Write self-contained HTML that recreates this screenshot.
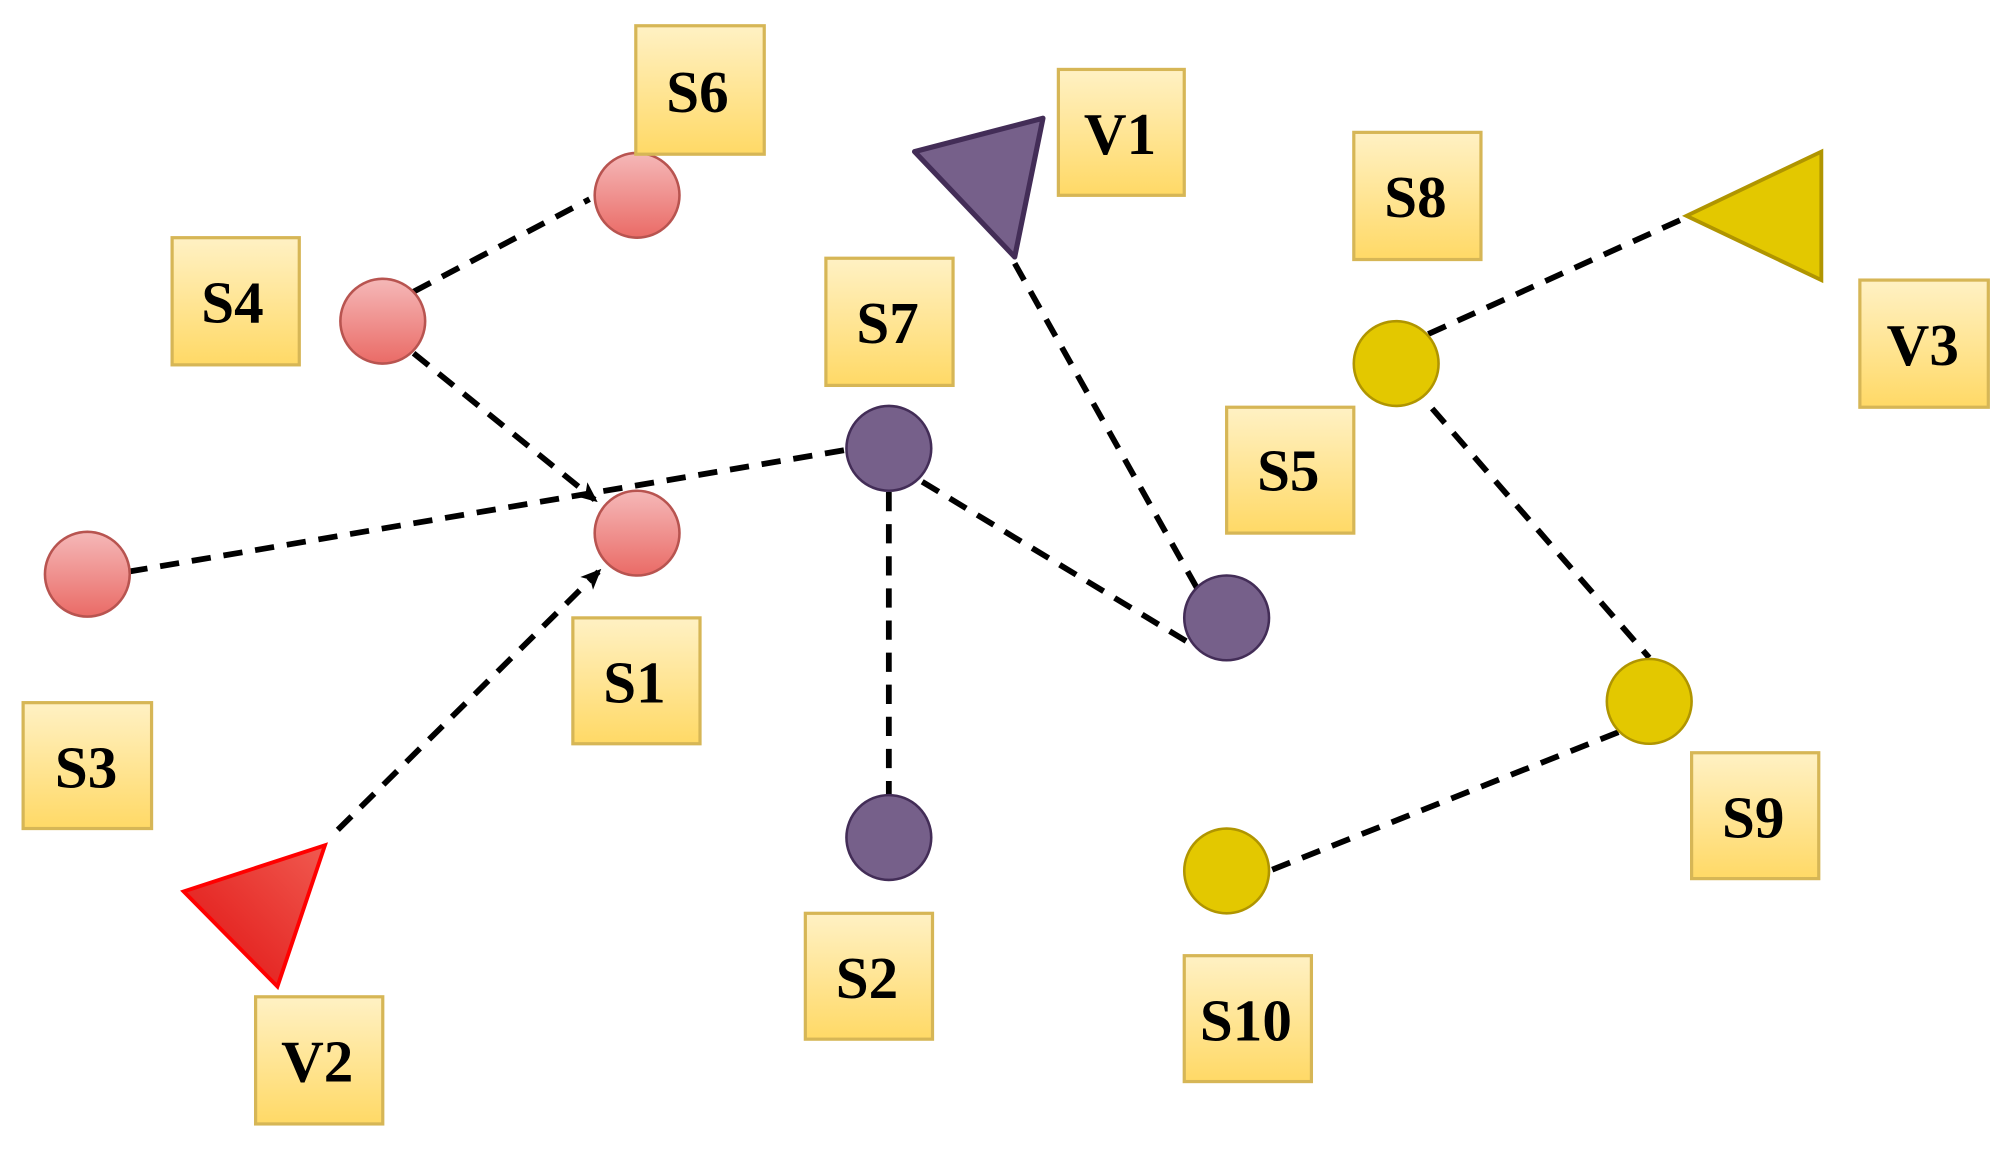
<!DOCTYPE html>
<html><head><meta charset="utf-8"><style>
html,body{margin:0;padding:0;background:#fff;}
svg{display:block;}
text{font-family:"Liberation Serif",serif;font-weight:bold;font-size:46px;fill:#000;}
</style></head><body>
<svg width="2014" height="1151" viewBox="0 0 1568 896" xmlns="http://www.w3.org/2000/svg">
<defs>
<linearGradient id="yb" x1="0" y1="0" x2="0" y2="1"><stop offset="0" stop-color="#fff1c4"/><stop offset="1" stop-color="#ffd966"/></linearGradient>
<linearGradient id="pk" x1="0" y1="0" x2="0" y2="1"><stop offset="0" stop-color="#f5b8b8"/><stop offset="1" stop-color="#ea6b66"/></linearGradient>
<linearGradient id="rd" x1="0" y1="1" x2="1" y2="0"><stop offset="0" stop-color="#e01010"/><stop offset="1" stop-color="#f05a50"/></linearGradient>
<marker id="ar" markerWidth="16" markerHeight="16" refX="13" refY="8" orient="auto" markerUnits="userSpaceOnUse" viewBox="0 0 16 16"><path d="M0,1 L16,8 L0,15 L4,8 Z" fill="#000"/></marker>
</defs>
<g stroke="#000" stroke-width="4.5" stroke-dasharray="15,10" fill="none">
<line x1="322" y1="227" x2="459" y2="155"/>
<line x1="322" y1="275" x2="463" y2="389" marker-end="url(#ar)"/>
<line x1="100" y1="445" x2="660" y2="350"/>
<line x1="263" y1="646" x2="466" y2="445" marker-end="url(#ar)"/>
<line x1="692" y1="383" x2="692" y2="620"/>
<line x1="718" y1="375" x2="930" y2="503"/>
<line x1="790" y1="205" x2="932" y2="458"/>
<line x1="1112" y1="260" x2="1311" y2="170"/>
<line x1="1115" y1="318" x2="1284" y2="512"/>
<line x1="1260" y1="570" x2="988" y2="678"/>
</g>
<g fill="url(#pk)" stroke="#b85450" stroke-width="2">
<circle cx="496" cy="152" r="33"/><circle cx="298" cy="250" r="33"/><circle cx="496" cy="415" r="33"/><circle cx="68" cy="447" r="33"/>
</g>
<g fill="#76608a" stroke="#432d57" stroke-width="2">
<circle cx="692" cy="349" r="33"/><circle cx="955" cy="481" r="33"/><circle cx="692" cy="652" r="33"/>
</g>
<g fill="#e3c800" stroke="#b09500" stroke-width="2">
<circle cx="1087" cy="283" r="33"/><circle cx="1284" cy="546" r="33"/><circle cx="955" cy="678" r="33"/>
</g>
<polygon points="712,118 812,92 790,200" fill="#76608a" stroke="#432d57" stroke-width="4" stroke-linejoin="round"/>
<polygon points="1313,168 1418,118 1418,218" fill="#e3c800" stroke="#b09500" stroke-width="3"/>
<polygon points="143,694 253,658 216,768" fill="url(#rd)" stroke="#ff0000" stroke-width="3"/>
<g fill="url(#yb)" stroke="#d6b656" stroke-width="2.5">
<rect x="495" y="20" width="100" height="100"/>
<rect x="824" y="54" width="98" height="98"/>
<rect x="1054" y="103" width="99" height="99"/>
<rect x="134" y="185" width="99" height="99"/>
<rect x="643" y="201" width="99" height="99"/>
<rect x="1448" y="218" width="100" height="99"/>
<rect x="955" y="317" width="99" height="98"/>
<rect x="446" y="481" width="99" height="98"/>
<rect x="18" y="547" width="100" height="98"/>
<rect x="1317" y="586" width="99" height="98"/>
<rect x="627" y="711" width="99" height="98"/>
<rect x="922" y="744" width="99" height="98"/>
<rect x="199" y="776" width="99" height="99"/>
</g>
<g text-anchor="middle">
<text x="543" y="87">S6</text>
<text x="872" y="120">V1</text>
<text x="1102" y="169">S8</text>
<text x="181" y="251">S4</text>
<text x="691" y="267">S7</text>
<text x="1497" y="284">V3</text>
<text x="1003" y="382">S5</text>
<text x="494" y="547">S1</text>
<text x="67" y="613">S3</text>
<text x="1365" y="652">S9</text>
<text x="675" y="777">S2</text>
<text x="970" y="810">S10</text>
<text x="247" y="842">V2</text>
</g>
</svg>
</body></html>
